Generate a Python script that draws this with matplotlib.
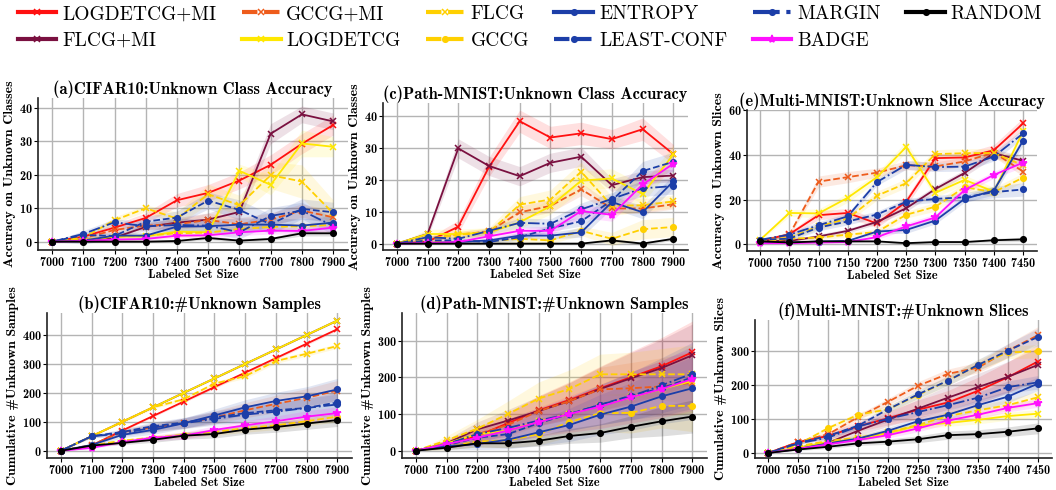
import matplotlib
matplotlib.use("Agg")
import matplotlib.pyplot as plt

plt.rcParams["font.family"] = ["cmb10", "DejaVu Serif"]
plt.rcParams["axes.unicode_minus"] = False
plt.rcParams["axes.formatter.use_mathtext"] = True

# x values
x_big = [7000, 7100, 7200, 7300, 7400, 7500, 7600, 7700, 7800, 7900]
x_mm = [7000, 7050, 7100, 7150, 7200, 7250, 7300, 7350, 7400, 7450]

# series order (legend is column-major)
methods = ["LOGDETCG+MI", "FLCG+MI", "GCCG+MI", "LOGDETCG", "FLCG", "GCCG",
           "ENTROPY", "LEAST-CONF", "MARGIN", "BADGE", "RANDOM"]

colors = {"LOGDETCG+MI": "#ff1010", "FLCG+MI": "#7a1040", "GCCG+MI": "#ee5c1c",
          "LOGDETCG": "#ffe800", "FLCG": "#ffd000", "GCCG": "#ffd000",
          "ENTROPY": "#1c3ea8", "LEAST-CONF": "#1c3ea8", "MARGIN": "#1c3ea8",
          "BADGE": "#ff10ff", "RANDOM": "#000000"}
styles = {"LOGDETCG+MI": ("-", "x"), "FLCG+MI": ("-", "x"), "GCCG+MI": ("--", "x"),
          "LOGDETCG": ("-", "x"), "FLCG": ("--", "x"), "GCCG": ("--", "o"),
          "ENTROPY": ("-", "o"), "LEAST-CONF": ("--", "o"), "MARGIN": ("-.", "o"),
          "BADGE": ("-", "*"), "RANDOM": ("-", "o")}

# (a) CIFAR10 unknown class accuracy
acc_cifar = {
    "LOGDETCG+MI": [0, 1.5, 4.2, 7.1, 12.4, 14.6, 18.3, 23.0, 29.3, 34.9],
    "FLCG+MI": [0, 0.5, 1.2, 4.4, 5.7, 6.6, 8.9, 32.3, 38.1, 36.0],
    "GCCG+MI": [0, 1.0, 3.5, 4.8, 5.2, 6.5, 5.2, 6.6, 9.3, 7.3],
    "LOGDETCG": [0, 0.5, 1.5, 1.6, 3.0, 2.8, 21.2, 17.0, 29.4, 28.4],
    "FLCG": [0, 1.2, 6.4, 10.0, 6.9, 14.2, 10.9, 19.9, 18.0, 8.5],
    "GCCG": [0, 0.6, 1.5, 1.8, 2.5, 2.7, 3.8, 4.4, 4.6, 5.0],
    "ENTROPY": [0, 0.3, 1.8, 1.8, 4.5, 4.6, 5.1, 5.1, 4.8, 5.7],
    "LEAST-CONF": [0, 2.0, 1.7, 6.0, 7.2, 12.3, 9.5, 5.2, 9.8, 8.8],
    "MARGIN": [0, 2.3, 5.8, 4.6, 5.0, 4.8, 2.8, 7.7, 9.3, 4.7],
    "BADGE": [0, 0.2, 0.6, 0.8, 1.8, 1.9, 2.8, 3.3, 3.2, 4.2],
    "RANDOM": [0, 0, 0, 0, 0.2, 1.1, 0.3, 0.8, 2.5, 2.5],
}
acc_cifar_band = {
    "LOGDETCG+MI": [0, 0.5, 1, 1.5, 2, 2.5, 2.5, 3, 3, 3],
    "FLCG+MI": [0, 0.5, 0.5, 1, 1.5, 2, 2.5, 3, 2.5, 2.5],
    "GCCG+MI": [0, 0.5, 1, 1, 1.5, 2, 2, 2, 2, 2],
    "LOGDETCG": [0, 0.5, 1, 1, 1.5, 1.5, 2, 3, 4, 3],
    "FLCG": [0, 0.5, 1, 1, 2, 3, 3, 4, 5, 4],
    "GCCG": [0, 0.3, 0.5, 0.5, 1, 1, 1, 1, 1, 1],
    "ENTROPY": [0, 1, 1, 1, 1.5, 2, 2, 2, 2, 2],
    "LEAST-CONF": [0, 1, 1, 1.5, 2, 2.5, 3, 3, 3, 3],
    "MARGIN": [0, 1, 1, 1.5, 2, 2, 2, 2.5, 2.5, 2.5],
    "BADGE": [0, 0.3, 0.5, 0.5, 0.7, 0.8, 1, 1, 1, 1],
    "RANDOM": [0, 0.2, 0.2, 0.2, 0.3, 0.5, 0.5, 0.5, 0.8, 0.8],
}

# (b) CIFAR10 cumulative unknown samples
cum_cifar = {
    "LOGDETCG+MI": [0, 18, 70, 120, 170, 220, 270, 320, 370, 420],
    "FLCG+MI": [0, 50, 100, 150, 200, 250, 300, 350, 400, 450],
    "GCCG+MI": [0, 20, 65, 80, 95, 115, 140, 162, 183, 208],
    "LOGDETCG": [0, 50, 100, 150, 200, 250, 300, 350, 400, 450],
    "FLCG": [0, 50, 100, 150, 178, 232, 258, 310, 335, 362],
    "GCCG": [0, 18, 35, 45, 55, 65, 78, 88, 102, 118],
    "ENTROPY": [0, 20, 55, 72, 95, 122, 150, 172, 188, 212],
    "LEAST-CONF": [0, 50, 65, 85, 97, 115, 130, 140, 148, 167],
    "MARGIN": [0, 50, 60, 80, 95, 110, 125, 135, 148, 160],
    "BADGE": [0, 10, 30, 45, 52, 72, 88, 102, 118, 130],
    "RANDOM": [0, 18, 27, 38, 52, 58, 73, 82, 94, 106],
}
cum_cifar_band = {
    "LOGDETCG+MI": [0, 2, 3, 4, 4, 5, 5, 5, 5, 5],
    "FLCG+MI": [0, 1, 1, 1, 1, 2, 2, 2, 2, 2],
    "GCCG+MI": [0, 5, 10, 14, 18, 22, 26, 30, 32, 35],
    "LOGDETCG": [0, 1, 1, 1, 1, 2, 2, 2, 2, 2],
    "FLCG": [0, 2, 4, 5, 6, 7, 8, 8, 8, 8],
    "GCCG": [0, 3, 5, 8, 10, 12, 14, 15, 16, 18],
    "ENTROPY": [0, 5, 10, 15, 18, 22, 26, 30, 33, 38],
    "LEAST-CONF": [0, 5, 10, 14, 18, 22, 26, 30, 33, 36],
    "MARGIN": [0, 5, 10, 14, 18, 22, 26, 30, 33, 36],
    "BADGE": [0, 3, 6, 9, 12, 14, 16, 18, 20, 22],
    "RANDOM": [0, 3, 6, 9, 12, 14, 16, 18, 20, 22],
}

# (c) Path-MNIST unknown class accuracy
acc_path = {
    "LOGDETCG+MI": [0, 0.6, 5.3, 24.0, 38.3, 33.2, 34.5, 32.7, 35.8, 28.0],
    "FLCG+MI": [0, 3.0, 29.8, 24.3, 21.1, 25.3, 27.2, 18.3, 20.8, 21.3],
    "GCCG+MI": [0, 1.5, 2.8, 3.8, 9.8, 11.8, 17.0, 11.0, 11.0, 12.3],
    "LOGDETCG": [0, 3.0, 3.0, 3.5, 6.7, 11.7, 19.7, 20.4, 15.5, 27.9],
    "FLCG": [0, 1.5, 2.8, 3.5, 12.2, 13.8, 22.5, 11.8, 12.0, 13.2],
    "GCCG": [0, 0.5, 0.8, 0.8, 1.5, 1.0, 4.0, 1.5, 4.5, 5.2],
    "ENTROPY": [0, 0.2, 0.5, 1.0, 2.5, 2.5, 3.5, 13.0, 9.8, 19.5],
    "LEAST-CONF": [0, 1.0, 1.0, 0.5, 2.0, 4.8, 7.0, 13.5, 22.7, 25.6],
    "MARGIN": [0, 2.0, 1.5, 4.0, 6.5, 6.2, 10.7, 14.0, 17.3, 18.0],
    "BADGE": [0, 0.2, 0.5, 2.3, 4.0, 4.0, 10.2, 9.0, 18.5, 25.0],
    "RANDOM": [0, 0, 0, 0, 0, 0, 0, 1.0, 0, 1.5],
}
acc_path_band = {
    "LOGDETCG+MI": [0, 1, 2, 3, 3.5, 3.5, 3.5, 3, 3.5, 3],
    "FLCG+MI": [0, 1, 3, 3, 3, 3, 3, 2, 2, 2],
    "GCCG+MI": [0, 0.5, 1, 1, 2, 2, 2, 1.5, 1.5, 1.5],
    "LOGDETCG": [0, 1.5, 1.5, 1.5, 2, 2.5, 3, 3, 3, 3],
    "FLCG": [0, 1, 1, 1.5, 2.5, 3, 3, 3, 2, 2],
    "GCCG": [0, 0.5, 0.5, 0.5, 1, 1, 1.5, 2, 3, 3],
    "ENTROPY": [0, 0.5, 0.5, 0.5, 1, 1, 1.5, 2, 2, 2],
    "LEAST-CONF": [0, 0.5, 0.5, 0.5, 1, 1, 1.5, 2, 3, 3],
    "MARGIN": [0, 0.5, 0.5, 1, 1.5, 1.5, 2, 2, 2.5, 2.5],
    "BADGE": [0, 0.3, 0.5, 0.8, 1, 1.5, 2, 2, 2, 2],
    "RANDOM": [0, 0.2, 0.2, 0.2, 0.2, 0.2, 0.2, 0.5, 0.5, 0.5],
}

# (d) Path-MNIST cumulative unknown samples
cum_path = {
    "LOGDETCG+MI": [0, 18, 40, 75, 110, 138, 170, 200, 230, 268],
    "FLCG+MI": [0, 20, 58, 82, 108, 135, 168, 197, 225, 260],
    "GCCG+MI": [0, 18, 45, 70, 108, 135, 167, 170, 175, 185],
    "LOGDETCG": [0, 20, 45, 55, 80, 100, 122, 145, 168, 190],
    "FLCG": [0, 28, 60, 100, 142, 168, 208, 208, 208, 208],
    "GCCG": [0, 10, 25, 28, 45, 78, 102, 103, 122, 122],
    "ENTROPY": [0, 12, 18, 30, 50, 70, 98, 120, 148, 170],
    "LEAST-CONF": [0, 15, 35, 45, 75, 100, 125, 150, 170, 200],
    "MARGIN": [0, 18, 45, 62, 82, 100, 125, 148, 178, 210],
    "BADGE": [0, 18, 35, 55, 78, 100, 120, 145, 168, 195],
    "RANDOM": [0, 8, 20, 20, 27, 40, 48, 65, 80, 93],
}
cum_path_band = {
    "LOGDETCG+MI": [0, 10, 20, 30, 40, 50, 60, 70, 78, 85],
    "FLCG+MI": [0, 10, 20, 30, 40, 50, 60, 70, 78, 85],
    "GCCG+MI": [0, 10, 20, 30, 40, 50, 60, 70, 78, 85],
    "LOGDETCG": [0, 10, 20, 30, 40, 50, 60, 70, 78, 85],
    "FLCG": [0, 12, 25, 35, 45, 52, 55, 60, 70, 80],
    "GCCG": [0, 8, 15, 20, 30, 40, 50, 55, 60, 70],
    "ENTROPY": [0, 8, 15, 25, 35, 45, 55, 65, 75, 85],
    "LEAST-CONF": [0, 8, 15, 25, 35, 45, 55, 65, 75, 85],
    "MARGIN": [0, 8, 15, 25, 35, 45, 55, 65, 75, 85],
    "BADGE": [0, 10, 20, 30, 40, 50, 60, 70, 78, 85],
    "RANDOM": [0, 5, 10, 12, 15, 20, 25, 30, 40, 45],
}

# (e) Multi-MNIST unknown slice accuracy
acc_multi = {
    "LOGDETCG+MI": [1.5, 4.5, 13.0, 14.0, 9.3, 19.0, 38.5, 38.8, 42.0, 54.0],
    "FLCG+MI": [1.5, 1.5, 3.5, 6.0, 10.0, 16.1, 24.7, 31.9, 40.7, 37.3],
    "GCCG+MI": [1.5, 4.3, 28.0, 30.0, 32.0, 35.3, 34.8, 37.0, 41.0, 32.5],
    "LOGDETCG": [2.0, 14.0, 13.8, 20.8, 30.0, 43.5, 23.0, 28.8, 23.5, 50.4],
    "FLCG": [1.5, 3.0, 8.0, 11.5, 21.7, 27.3, 40.3, 40.7, 40.8, 35.3],
    "GCCG": [1.0, 2.5, 3.0, 4.3, 5.5, 13.2, 16.8, 25.5, 23.3, 29.8],
    "ENTROPY": [0.8, 0.8, 1.2, 1.5, 5.7, 6.4, 10.6, 20.3, 24.0, 46.3],
    "LEAST-CONF": [2.0, 2.5, 7.5, 10.2, 13.3, 19.0, 20.3, 21.0, 23.3, 24.5],
    "MARGIN": [2.0, 4.3, 8.5, 12.5, 27.8, 35.5, 34.5, 34.7, 39.2, 49.5],
    "BADGE": [0.5, 0.5, 0.8, 1.0, 3.2, 8.0, 12.0, 24.3, 31.0, 36.5],
    "RANDOM": [1.3, 0.8, 1.3, 1.3, 1.3, 0.5, 1.0, 1.0, 1.8, 2.2],
}
acc_multi_band = {
    "LOGDETCG+MI": [0.5, 1, 2, 2, 2, 2, 2, 2, 2.5, 2.5],
    "FLCG+MI": [0.5, 0.5, 1, 1, 1, 1.5, 1.5, 1.5, 2, 2],
    "GCCG+MI": [0.5, 1, 2.5, 2.5, 2, 2, 2, 2, 2, 2],
    "LOGDETCG": [0.5, 1.5, 2, 2, 2, 2.5, 2, 2, 2, 2],
    "FLCG": [0.5, 1, 1.5, 1.5, 2, 2, 2, 2, 2, 2],
    "GCCG": [0.5, 0.5, 1, 1, 1.5, 1.5, 2, 2, 2, 2],
    "ENTROPY": [0.5, 0.5, 0.5, 0.5, 1, 1.5, 1.5, 1.5, 2, 2],
    "LEAST-CONF": [0.5, 1, 1.5, 1.5, 1.5, 1.5, 1.5, 2, 2.5, 3],
    "MARGIN": [0.5, 1, 1.5, 1.5, 1.5, 2, 2, 2, 2, 2],
    "BADGE": [0.3, 0.3, 0.5, 0.5, 1, 1.5, 1.5, 1.5, 1.5, 2],
    "RANDOM": [0.3, 0.3, 0.3, 0.5, 0.5, 0.5, 0.5, 0.5, 0.8, 1],
}

# (f) Multi-MNIST cumulative unknown slices
cum_multi = {
    "LOGDETCG+MI": [0, 32, 50, 78, 102, 127, 148, 182, 222, 268],
    "FLCG+MI": [0, 15, 30, 65, 98, 130, 162, 193, 223, 258],
    "GCCG+MI": [0, 32, 55, 105, 150, 197, 232, 250, 300, 345],
    "LOGDETCG": [0, 15, 32, 40, 58, 80, 88, 97, 108, 115],
    "FLCG": [0, 20, 35, 45, 60, 82, 108, 125, 140, 163],
    "GCCG": [0, 25, 73, 112, 128, 170, 212, 258, 295, 298],
    "ENTROPY": [0, 12, 28, 42, 65, 93, 112, 140, 165, 203],
    "LEAST-CONF": [0, 30, 50, 80, 128, 172, 212, 258, 300, 340],
    "MARGIN": [0, 28, 45, 78, 100, 120, 140, 162, 193, 207],
    "BADGE": [0, 12, 25, 38, 52, 72, 95, 112, 132, 146],
    "RANDOM": [0, 10, 18, 28, 33, 40, 52, 55, 62, 72],
}
cum_multi_band = {
    "LOGDETCG+MI": [0, 5, 10, 15, 20, 28, 35, 40, 45, 50],
    "FLCG+MI": [0, 5, 10, 15, 20, 28, 35, 40, 45, 50],
    "GCCG+MI": [0, 4, 6, 8, 10, 12, 14, 16, 20, 25],
    "LOGDETCG": [0, 3, 5, 6, 8, 10, 10, 12, 12, 12],
    "FLCG": [0, 3, 5, 8, 10, 12, 14, 15, 16, 18],
    "GCCG": [0, 4, 6, 8, 10, 12, 14, 16, 18, 20],
    "ENTROPY": [0, 3, 5, 8, 10, 12, 14, 16, 18, 20],
    "LEAST-CONF": [0, 4, 6, 8, 10, 12, 14, 16, 20, 25],
    "MARGIN": [0, 3, 5, 8, 10, 12, 14, 16, 18, 20],
    "BADGE": [0, 3, 5, 6, 8, 10, 10, 12, 12, 12],
    "RANDOM": [0, 3, 5, 6, 8, 10, 12, 13, 14, 16],
}

panels = [
    # data, band, x, title, ylabel, ylim, yticks, axes box in pixels (l, r, top, bottom)
    (acc_cifar, acc_cifar_band, x_big, "(a)CIFAR10:Unknown Class Accuracy",
     "Accuracy on Unknown Classes", (-2.5, 43), [0, 10, 20, 30, 40], (38, 348, 98, 250)),
    (acc_path, acc_path_band, x_big, "(c)Path-MNIST:Unknown Class Accuracy",
     "Accuracy on Unknown Classes", (-2, 44), [0, 10, 20, 30, 40], (383, 688, 103, 250)),
    (acc_multi, acc_multi_band, x_mm, "(e)Multi-MNIST:Unknown Slice Accuracy",
     "Accuracy on Unknown Slices", (-3, 60), [0, 20, 40, 60], (747, 1037, 110, 251)),
    (cum_cifar, cum_cifar_band, x_big, "(b)CIFAR10:#Unknown Samples",
     "Cumulative #Unknown Samples", (-25, 476), [0, 100, 200, 300, 400], (47, 352, 313, 458)),
    (cum_path, cum_path_band, x_big, "(d)Path-MNIST:#Unknown Samples",
     "Cumulative #Unknown Samples", (-20, 375), [0, 100, 200, 300], (402, 707, 313, 458)),
    (cum_multi, cum_multi_band, x_mm, "(f)Multi-MNIST:#Unknown Slices",
     "Cumulative #Unknown Slices", (-15, 390), [0, 100, 200, 300], (755, 1052, 320, 458)),
]

W, H = 1056, 490
fig = plt.figure(figsize=(W / 100, H / 100), dpi=100)

handles = {}
for data, band, xs, title, ylabel, ylim, yticks, box in panels:
    l, r, t, b = box
    ax = fig.add_axes([l / W, 1 - b / H, (r - l) / W, (b - t) / H])
    for m in methods:
        y = data[m]
        lo = [v - e for v, e in zip(y, band[m])]
        hi = [v + e for v, e in zip(y, band[m])]
        ax.fill_between(xs, lo, hi, color=colors[m], alpha=0.13, linewidth=0)
    for m in methods:
        ls, mk = styles[m]
        ms = {"x": 5, "o": 4, "*": 6}[mk]
        line, = ax.plot(xs, data[m], linestyle=ls, marker=mk, color=colors[m],
                        linewidth=1.3, markersize=ms, markeredgewidth=1.1, label=m)
        handles[m] = line
    ax.set_xlim(xs[0] - (xs[-1] - xs[0]) * 0.05, xs[-1] + (xs[-1] - xs[0]) * 0.053)
    ax.set_ylim(*ylim)
    ax.set_xticks(xs)
    ax.set_yticks(yticks)
    ax.grid(True, color="#b4b4b4", linewidth=1.0)
    ax.set_axisbelow(True)
    for s in ["top", "right"]:
        ax.spines[s].set_visible(False)
    for s in ["left", "bottom"]:
        ax.spines[s].set_color("#222222")
        ax.spines[s].set_linewidth(1.2)
    ax.tick_params(labelsize=8.8, length=3, width=0.8, pad=1.0)
    ax.set_title(title, fontsize=11.8, pad=1)
    ax.set_ylabel(ylabel, fontsize=10, labelpad=2)
    ax.set_xlabel("Labeled Set Size", fontsize=9, labelpad=0)

leg = fig.legend([handles[m] for m in methods], methods, ncol=6, loc="upper left",
                 bbox_to_anchor=(0.0, 1.025), frameon=False,
                 prop={"family": ["cmr10", "DejaVu Serif"], "size": 14},
                 handlelength=2.0, handletextpad=0.3, columnspacing=1.3,
                 labelspacing=0.45)
for ln in leg.get_lines():
    ln.set_linewidth(3)

fig.savefig("out.png", dpi=100)
